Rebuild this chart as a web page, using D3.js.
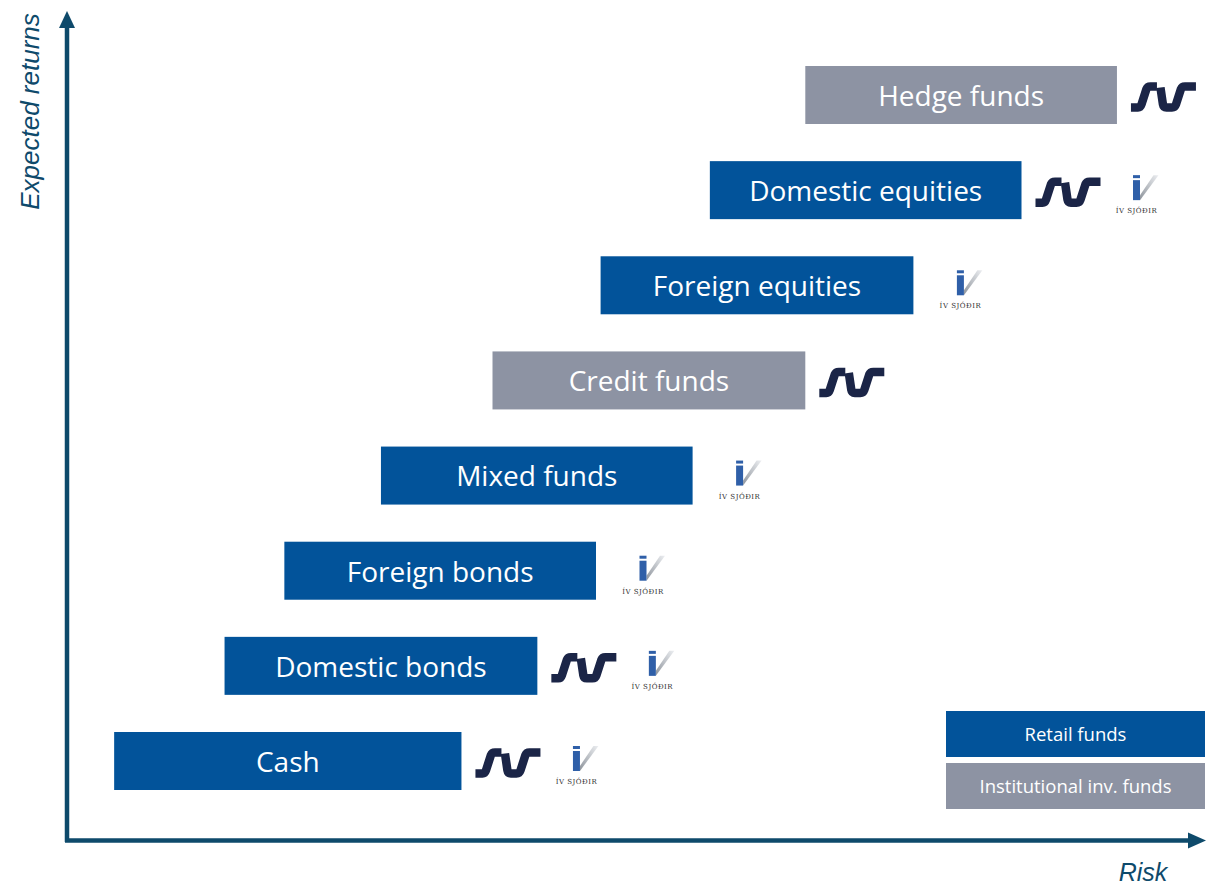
<!DOCTYPE html>
<html><head><meta charset="utf-8">
<script src="https://cdn.jsdelivr.net/npm/d3@7"></script>
<style>body{margin:0;background:#fff}svg{display:block}</style></head>
<body><svg id="c" width="1217" height="886"></svg>
<script>
// ---- data ----
const categories = ["Cash","Domestic bonds","Foreign bonds","Mixed funds","Credit funds","Foreign equities","Domestic equities","Hedge funds"];
const riskLow  = [4.1, 13.7, 18.9, 27.3, 37.0, 46.4, 55.9, 64.2];
const riskHigh = [34.3, 40.9, 46.0, 54.4, 64.2, 73.6, 83.0, 91.3];
const fundType = ["retail","retail","retail","retail","institutional","retail","retail","institutional"];
const hasSIV = [true, true, false, false, true, false, true, true];
const hasIV  = [true, true, true, true, false, true, true, false];
const legendLabels = ["Retail funds", "Institutional inv. funds"];
const legendTypes = ["retail", "institutional"];
const xAxisLabel = "Risk";
const yAxisLabel = "Expected returns";

// ---- styles ----
const colors = {retail: "#02539a", institutional: "#8d93a3"};
const axisColor = "#0e4a6b";
const sivColor = "#1b2547";
const barH = 58;
const labelFont = "'Open Sans', Lato, sans-serif";

const svg = d3.select("#c");
const x = d3.scaleLinear().domain([0, 100]).range([67, 1217]);
const y = d3.scalePoint().domain(categories).range([761, 95]);
const color = d3.scaleOrdinal().domain(["retail","institutional"]).range([colors.retail, colors.institutional]);

const rows = categories.map((c, i) => ({cat: c, lo: riskLow[i], hi: riskHigh[i], type: fundType[i], siv: hasSIV[i], iv: hasIV[i]}));

const defs = svg.append("defs");
const grad = defs.append("linearGradient").attr("id","ivg").attr("x1","0").attr("y1","1").attr("x2","1").attr("y2","0");
grad.append("stop").attr("offset","0").attr("stop-color","#8e949c");
grad.append("stop").attr("offset","1").attr("stop-color","#eceef1");

// axes
const ax = svg.append("g");
ax.append("line").attr("x1",67).attr("y1",842).attr("x2",67).attr("y2",26)
  .attr("stroke",axisColor).attr("stroke-width",4.5);
ax.append("path").attr("d","M67,11 L75,28 L59,28 Z").attr("fill",axisColor);
ax.append("line").attr("x1",65).attr("y1",840.5).attr("x2",1190).attr("y2",840.5)
  .attr("stroke",axisColor).attr("stroke-width",4.5);
ax.append("path").attr("d","M1206,840.5 L1188,832.5 L1188,848.5 Z").attr("fill",axisColor);

svg.append("text").attr("transform","translate(39,111.5) rotate(-90)")
  .attr("text-anchor","middle").attr("font-family","'Liberation Sans', Arial, sans-serif")
  .attr("font-style","italic").attr("font-size",26).attr("fill",axisColor).text(yAxisLabel);
svg.append("text").attr("x",1143).attr("y",881)
  .attr("text-anchor","middle").attr("font-family","'Liberation Sans', Arial, sans-serif")
  .attr("font-style","italic").attr("font-size",25).attr("fill",axisColor).text(xAxisLabel);

// bars
const g = svg.append("g").selectAll("g").data(rows).join("g");
g.append("rect")
  .attr("x", d => x(d.lo)).attr("width", d => x(d.hi) - x(d.lo))
  .attr("y", d => y(d.cat) - barH/2).attr("height", barH)
  .attr("fill", d => color(d.type));
g.append("text")
  .attr("x", d => (x(d.lo) + x(d.hi))/2).attr("y", d => y(d.cat) + 1)
  .attr("dy","0.35em").attr("text-anchor","middle")
  .attr("font-family", labelFont).attr("font-size", 28).attr("fill","#fff")
  .text(d => d.cat);

// SIV logo
function drawSIV(sel, left, cy) {
  const lg = sel.append("g").attr("transform", `translate(${left},${cy - 14.5})`);
  lg.append("path").attr("d","M0,25 H7 Q9.5,25 10.5,22 L15.5,6.5 Q16.5,4 19.5,4 H26")
    .attr("fill","none").attr("stroke",sivColor).attr("stroke-width",8.5);
  lg.append("path").attr("d","M29.5,5 L32,22 Q32.5,25 35.5,25 H41 Q44,25 45,22 L50,6.5 Q51,4 54,4 H65")
    .attr("fill","none").attr("stroke",sivColor).attr("stroke-width",8.5);
}
// IV sjodir logo
function drawIV(sel, cx, cy) {
  const lg = sel.append("g").attr("transform", `translate(${cx},${cy - 15})`);
  lg.append("path").attr("d","M3.5,20 L17,0 L22,0 L3.5,25 Z").attr("fill","url(#ivg)");
  lg.append("rect").attr("x",-3.5).attr("y",0).attr("width",7).attr("height",3).attr("fill","#2f5fa8");
  lg.append("rect").attr("x",-3.5).attr("y",5).attr("width",7).attr("height",20).attr("fill","#2f5fa8");
  lg.append("text").attr("x",0).attr("y",38).attr("text-anchor","middle")
    .attr("font-family","'DejaVu Serif', 'Liberation Serif', serif").attr("font-size",7)
    .attr("letter-spacing",0.5).attr("fill","#333").text("ÍV SJÓÐIR");
}
const logos = svg.append("g");
rows.forEach(d => {
  const end = x(d.hi), cy = y(d.cat);
  if (d.siv) drawSIV(logos, end + 14, cy + 2);
  if (d.iv) drawIV(logos, d.siv ? end + 115 : end + 47, cy);
});

// legend
const lgd = svg.append("g");
legendLabels.forEach((t, i) => {
  const top = 711 + i * 52;
  lgd.append("rect").attr("x",946).attr("y",top).attr("width",259).attr("height",46)
    .attr("fill", color(legendTypes[i]));
  lgd.append("text").attr("x",1075.5).attr("y",top + 24).attr("dy","0.35em")
    .attr("text-anchor","middle").attr("font-family",labelFont).attr("font-size",18.5)
    .attr("fill","#fff").text(t);
});
</script></body></html>
